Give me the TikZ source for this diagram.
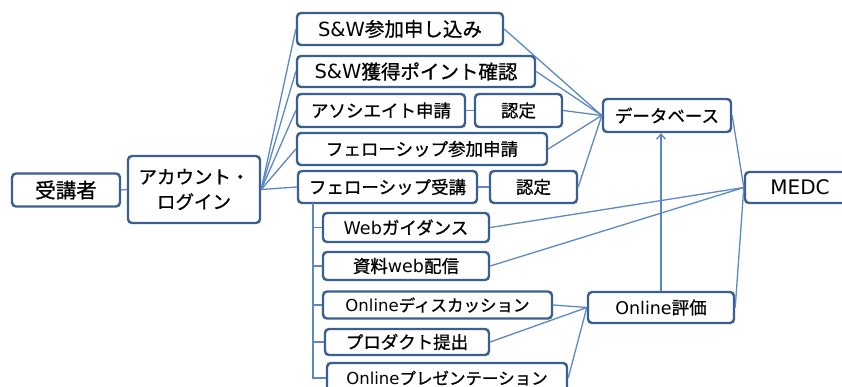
\documentclass[tikz,border=0pt]{standalone}
\usepackage{fontspec}
\setmainfont{Noto Sans CJK JP}[FakeBold=0.8]
\newfontfamily\lat{DejaVu Sans}
\usetikzlibrary{arrows.meta}
\definecolor{boxc}{RGB}{58,96,146}
\definecolor{linec}{RGB}{92,136,196}
\tikzset{
  bx/.style={draw=boxc, line width=2.4pt, rounded corners=4pt, fill=white, inner sep=0pt,
    font=\fontsize{17.5}{21}\selectfont, align=center},
  big/.style={font=\fontsize{19.5}{23}\selectfont},
  ln/.style={draw=linec, line width=1.3pt},
}
\begin{document}
\begin{tikzpicture}[x=1pt,y=-1pt]
\useasboundingbox (0,0) rectangle (842,386);
\clip (0,0) rectangle (842,386);
% nodes
\node[bx, font=\fontsize{20.5}{24}\selectfont, minimum width=108, minimum height=33] (jk) at (66,190) {受講者};
\node[bx, font=\fontsize{18.5}{25}\selectfont, minimum width=132, minimum height=67] (ac) at (194,189.5) {アカウント・\\ログイン};
\node[bx, big, minimum width=206, minimum height=32] (sw1) at (400,29) {{\lat S\&W}参加申し込み};
\node[bx, big, minimum width=238, minimum height=31] (sw2) at (416,71.5) {{\lat S\&W}獲得ポイント確認};
\node[bx, minimum width=168, minimum height=33] (as) at (381,110.5) {アソシエイト申請};
\node[bx, minimum width=87, minimum height=33] (n1) at (518.5,110.5) {認定};
\node[bx, minimum width=250, minimum height=32] (fa) at (422,149) {フェローシップ参加申請};
\node[bx, minimum width=179, minimum height=32] (fb) at (387.5,187) {フェローシップ受講};
\node[bx, minimum width=87, minimum height=32] (n2) at (533.5,187) {認定};
\node[bx, minimum width=166, minimum height=29] (web) at (406,227.5) {{\lat Web}ガイダンス};
\node[bx, minimum width=166, minimum height=28] (sr) at (406,266) {資料{\lat web}配信};
\node[bx, font=\fontsize{16.5}{20}\selectfont, minimum width=229, minimum height=27] (dc) at (437.5,305) {{\lat Online}ディスカッション};
\node[bx, minimum width=164, minimum height=26] (pd) at (407,342) {プロダクト提出};
\node[bx, font=\fontsize{16.5}{20}\selectfont, minimum width=240, minimum height=30] (pr) at (447,378) {{\lat Online}プレゼンテーション};
\node[bx, minimum width=128, minimum height=33] (db) at (667,115.5) {データベース};
\node[bx, font=\fontsize{20}{24}\selectfont, minimum width=110, minimum height=31] (md) at (800,187.5) {{\lat MEDC}};
\node[bx, minimum width=146, minimum height=31] (oe) at (661,307.5) {{\lat Online}評価};
% connectors
\draw[ln] (jk.east) -- (ac.west);
\foreach \t in {sw1,sw2,as,fa,fb} \draw[ln] (ac.east) -- (\t.west);
\draw[ln] (as.east) -- (n1.west);
\draw[ln] (fb.east) -- (n2.west);
\foreach \t in {sw1,sw2,n1,fa,n2} \draw[ln] (\t.east) -- (db.west);
\foreach \t in {db,oe,web,sr} \draw[ln] (\t.east) -- (md.west);
\foreach \t in {dc,pd,pr} \draw[ln] (\t.east) -- (oe.west);
\draw[ln, -{Straight Barb[length=5pt,width=9pt]}] (oe.north) -- (oe.north |- db.south);
\coordinate (t0) at (313,203);
\draw[ln] (t0) |- (pr.west);
\foreach \t in {web,sr,dc,pd} \draw[ln] (t0 |- \t.west) -- (\t.west);
\end{tikzpicture}
\end{document}
